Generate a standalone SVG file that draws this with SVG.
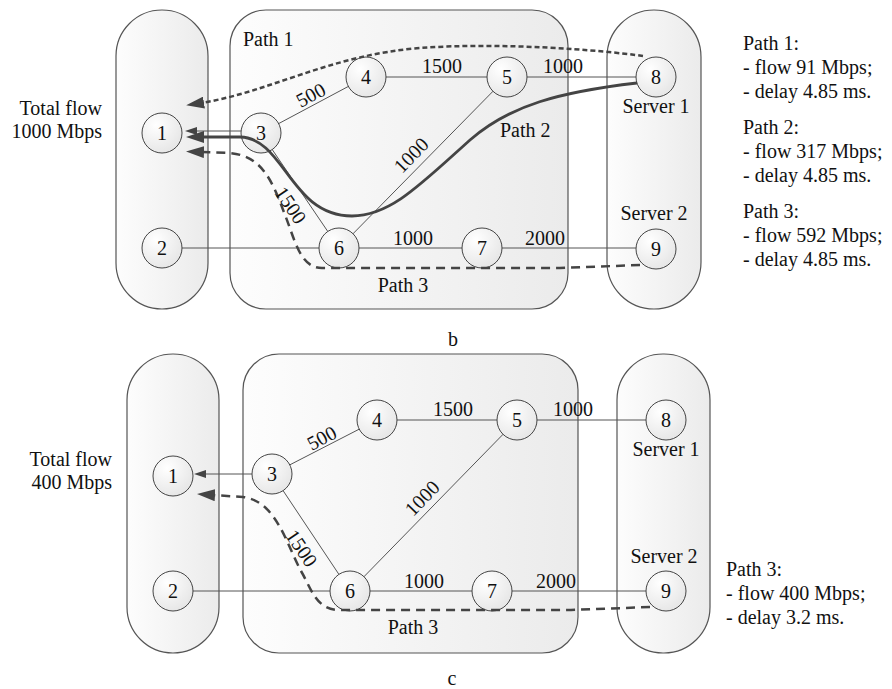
<svg xmlns="http://www.w3.org/2000/svg" width="892" height="689" viewBox="0 0 892 689" font-family="'Liberation Serif', Tinos, 'Times New Roman', 'DejaVu Serif', serif">
<defs>
<linearGradient id="boxg" x1="0" y1="0" x2="1" y2="0"><stop offset="0" stop-color="#fdfdfd"/><stop offset="1" stop-color="#ebebeb"/></linearGradient>
<radialGradient id="nodeg" cx="0.35" cy="0.3" r="0.8"><stop offset="0" stop-color="#ffffff"/><stop offset="1" stop-color="#e4e4e4"/></radialGradient>
<marker id="bigArrow" viewBox="0 0 18 12" refX="3" refY="6" markerWidth="18" markerHeight="12" markerUnits="userSpaceOnUse" orient="auto"><path d="M0,0 L18,6 L0,12 z" fill="#444"/></marker>
<marker id="smallArrow" viewBox="0 0 12 8" refX="1" refY="4" markerWidth="12" markerHeight="8" markerUnits="userSpaceOnUse" orient="auto"><path d="M0,0 L12,4 L0,8 z" fill="#444"/></marker>
</defs>
<style>
.box{fill:url(#boxg);stroke:#555;stroke-width:1.2}
.edge{stroke:#555;stroke-width:1;fill:none}
.node circle{fill:url(#nodeg);stroke:#444;stroke-width:1}
text{font-family:'Liberation Serif', Tinos, 'Times New Roman', 'DejaVu Serif', serif;font-size:20px;fill:#111}
.mid{text-anchor:middle}
.end{text-anchor:end}
.p1{stroke:#444;stroke-width:2.5;fill:none;stroke-dasharray:5 3}
.p2{stroke:#444;stroke-width:2.8;fill:none}
.p3{stroke:#444;stroke-width:2.5;fill:none;stroke-dasharray:9 6}
</style>
<rect width="892" height="689" fill="#fff"/>

<!-- Diagram b -->
<g id="diagram-b">
  <g id="b-regions">
    <rect class="box" x="116" y="10" width="92" height="299" rx="46"/>
    <rect class="box" x="230" y="10" width="338" height="299" rx="36"/>
    <rect class="box" x="607" y="10" width="94" height="299" rx="47"/>
  </g>
  <g id="b-connectors">
    <line class="edge" x1="162" y1="248" x2="339" y2="248"/>
    <line class="edge" x1="261" y1="133" x2="366" y2="77"/>
    <line class="edge" x1="366" y1="77" x2="507" y2="77"/>
    <line class="edge" x1="507" y1="77" x2="656" y2="77"/>
    <line class="edge" x1="339" y1="248" x2="507" y2="77"/>
    <line class="edge" x1="261" y1="133" x2="339" y2="248"/>
    <line class="edge" x1="339" y1="248" x2="482" y2="248"/>
    <line class="edge" x1="482" y1="248" x2="656" y2="248"/>
    <line class="edge" x1="241" y1="131" x2="196" y2="131" marker-end="url(#smallArrow)"/>
  </g>
  <g id="b-n1" class="node"><circle cx="162" cy="133" r="20"/><text class="mid" x="162" y="140">1</text></g>
  <g id="b-n2" class="node"><circle cx="162" cy="248" r="20"/><text class="mid" x="162" y="255">2</text></g>
  <g id="b-n3" class="node"><circle cx="261" cy="133" r="20"/><text class="mid" x="261" y="140">3</text></g>
  <g id="b-n4" class="node"><circle cx="366" cy="77" r="20"/><text class="mid" x="366" y="84">4</text></g>
  <g id="b-n5" class="node"><circle cx="507" cy="77" r="20"/><text class="mid" x="507" y="84">5</text></g>
  <g id="b-n6" class="node"><circle cx="339" cy="248" r="20"/><text class="mid" x="339" y="255">6</text></g>
  <g id="b-n7" class="node"><circle cx="482" cy="248" r="20"/><text class="mid" x="482" y="255">7</text></g>
  <g id="b-n8" class="node"><circle cx="656" cy="77" r="20"/><text class="mid" x="656" y="84">8</text></g>
  <g id="b-n9" class="node"><circle cx="656" cy="249" r="20"/><text class="mid" x="656" y="256">9</text></g>
  <g id="b-paths">
    <path class="p1" d="M643,56 C600,50 500,42 420,48 C330,55 270,92 201,103" marker-end="url(#bigArrow)"/>
    <path class="p2" d="M637,83 C560,92 510,105 470,140 C420,185 390,216 352,216 C290,216 285,138 240,137 L201,137" marker-end="url(#bigArrow)"/>
    <path class="p3" d="M640,265 L560,268 L322,268 C300,268 295,240 285,215 C272,180 262,156 230,153 L201,152" marker-end="url(#bigArrow)"/>
  </g>
  <g id="b-labels">
    <text transform="rotate(-28 314 101)" class="mid" x="314" y="101">500</text>
    <text class="mid" x="442" y="73">1500</text>
    <text class="mid" x="563" y="73">1000</text>
    <text transform="rotate(-45.5 416 160)" class="mid" x="416" y="160">1000</text>
    <text transform="rotate(56 285 209)" class="mid" x="285" y="209">1500</text>
    <text class="mid" x="413" y="245">1000</text>
    <text class="mid" x="545" y="245">2000</text>
    <text x="243" y="46">Path 1</text>
    <text x="500" y="137">Path 2</text>
    <text class="mid" x="403" y="292">Path 3</text>
    <text class="mid" x="656" y="113">Server 1</text>
    <text class="mid" x="654" y="220">Server 2</text>
    <text class="end" x="102" y="115">Total flow</text>
    <text class="end" x="102" y="138">1000 Mbps</text>
    <text x="743" y="50">Path 1:</text>
    <text x="743" y="74">- flow 91 Mbps;</text>
    <text x="743" y="98">- delay 4.85 ms.</text>
    <text x="743" y="134">Path 2:</text>
    <text x="743" y="158">- flow 317 Mbps;</text>
    <text x="743" y="182">- delay 4.85 ms.</text>
    <text x="743" y="218">Path 3:</text>
    <text x="743" y="242">- flow 592 Mbps;</text>
    <text x="743" y="266">- delay 4.85 ms.</text>
    <text class="mid" x="453" y="346">b</text>
  </g>
</g>

<!-- Diagram c -->
<g id="diagram-c" transform="translate(11,343)">
  <g id="c-regions">
    <rect class="box" x="116" y="11" width="92" height="299" rx="46"/>
    <rect class="box" x="232" y="11" width="335" height="299" rx="36"/>
    <rect class="box" x="606" y="11" width="93" height="299" rx="46"/>
  </g>
  <g id="c-connectors">
    <line class="edge" x1="162" y1="248" x2="339" y2="248"/>
    <line class="edge" x1="261" y1="131" x2="366" y2="77"/>
    <line class="edge" x1="366" y1="77" x2="506" y2="77"/>
    <line class="edge" x1="506" y1="77" x2="655" y2="77"/>
    <line class="edge" x1="339" y1="248" x2="506" y2="77"/>
    <line class="edge" x1="261" y1="131" x2="339" y2="248"/>
    <line class="edge" x1="339" y1="248" x2="481" y2="248"/>
    <line class="edge" x1="481" y1="248" x2="655" y2="248"/>
    <line class="edge" x1="241" y1="131" x2="194" y2="131" marker-end="url(#smallArrow)"/>
  </g>
  <g id="c-n1" class="node"><circle cx="162" cy="133" r="20"/><text class="mid" x="162" y="140">1</text></g>
  <g id="c-n2" class="node"><circle cx="162" cy="248" r="20"/><text class="mid" x="162" y="255">2</text></g>
  <g id="c-n3" class="node"><circle cx="261" cy="131" r="20"/><text class="mid" x="261" y="138">3</text></g>
  <g id="c-n4" class="node"><circle cx="366" cy="77" r="20"/><text class="mid" x="366" y="84">4</text></g>
  <g id="c-n5" class="node"><circle cx="506" cy="77" r="20"/><text class="mid" x="506" y="84">5</text></g>
  <g id="c-n6" class="node"><circle cx="339" cy="248" r="20"/><text class="mid" x="339" y="255">6</text></g>
  <g id="c-n7" class="node"><circle cx="481" cy="248" r="20"/><text class="mid" x="481" y="255">7</text></g>
  <g id="c-n8" class="node"><circle cx="655" cy="77" r="20"/><text class="mid" x="655" y="84">8</text></g>
  <g id="c-n9" class="node"><circle cx="655" cy="248" r="20"/><text class="mid" x="655" y="255">9</text></g>
  <g id="c-paths">
    <path class="p3" d="M639,264 L560,267 L328,267 C305,267 300,245 290,228 C275,200 265,158 232,154 L201,152" marker-end="url(#bigArrow)"/>
  </g>
  <g id="c-labels">
    <text transform="rotate(-28 314 101)" class="mid" x="314" y="101">500</text>
    <text class="mid" x="442" y="73">1500</text>
    <text class="mid" x="562" y="73">1000</text>
    <text transform="rotate(-45.5 416 160)" class="mid" x="416" y="160">1000</text>
    <text transform="rotate(56 285 209)" class="mid" x="285" y="209">1500</text>
    <text class="mid" x="413" y="245">1000</text>
    <text class="mid" x="545" y="245">2000</text>
    <text class="mid" x="402" y="291">Path 3</text>
    <text class="mid" x="655" y="113">Server 1</text>
    <text class="mid" x="653" y="220">Server 2</text>
    <text class="end" x="101" y="123">Total flow</text>
    <text class="end" x="101" y="146">400 Mbps</text>
    <text x="715" y="233">Path 3:</text>
    <text x="715" y="257">- flow 400 Mbps;</text>
    <text x="715" y="281">- delay 3.2 ms.</text>
    <text class="mid" x="441" y="342">c</text>
  </g>
</g>
</svg>
